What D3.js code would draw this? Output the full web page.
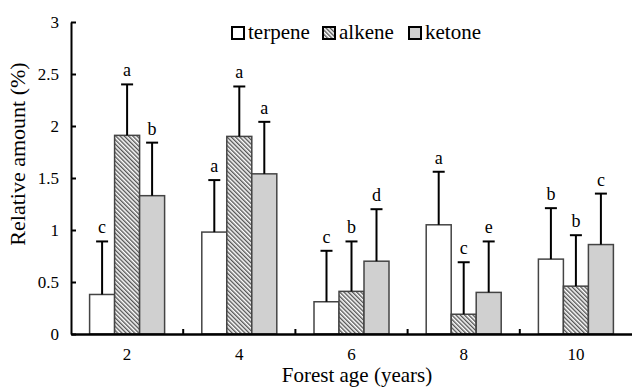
<!DOCTYPE html>
<html>
<head>
<meta charset="utf-8">
<script src="https://cdn.jsdelivr.net/npm/d3@7"></script>
<style>
  body { margin: 0; background: #fff; }
  svg text { font-family: "Liberation Serif", "Times New Roman", serif; }
</style>
</head>
<body>
<script>
var ages = ['2', '4', '6', '8', '10'];
var series = ['terpene', 'alkene', 'ketone'];
var terpene = [0.38, 0.98, 0.31, 1.05, 0.72];
var alkene = [1.91, 1.90, 0.41, 0.19, 0.46];
var ketone = [1.33, 1.54, 0.70, 0.40, 0.86];
var terpeneErr = [0.51, 0.50, 0.49, 0.51, 0.49];
var alkeneErr = [0.49, 0.48, 0.48, 0.50, 0.49];
var ketoneErr = [0.51, 0.50, 0.50, 0.49, 0.49];
var terpeneSig = ['c', 'a', 'c', 'a', 'b'];
var alkeneSig = ['a', 'a', 'b', 'c', 'b'];
var ketoneSig = ['b', 'a', 'd', 'e', 'c'];
var yTicks = [0, 0.5, 1, 1.5, 2, 2.5, 3];

var vals = { terpene: terpene, alkene: alkene, ketone: ketone };
var errs = { terpene: terpeneErr, alkene: alkeneErr, ketone: ketoneErr };
var sigs = { terpene: terpeneSig, alkene: alkeneSig, ketone: ketoneSig };

var W = 632, H = 387;
var svg = d3.select('body').append('svg').attr('width', W).attr('height', H)
  .attr('font-family', '"Liberation Serif", "Times New Roman", serif');

// hatch for alkene
var defs = svg.append('defs');
defs.append('pattern').attr('id', 'hatch').attr('patternUnits', 'userSpaceOnUse')
  .attr('width', 3).attr('height', 3).attr('patternTransform', 'rotate(-45)')
  .call(function (p) {
    p.append('rect').attr('width', 3).attr('height', 3).attr('fill', '#fff');
    p.append('line').attr('x1', 0.7).attr('y1', 0).attr('x2', 0.7).attr('y2', 3)
      .attr('stroke', '#555').attr('stroke-width', 1.4);
  });

var fills = { terpene: '#fff', alkene: 'url(#hatch)', ketone: '#d0d0d0' };

var x = d3.scaleBand().domain(ages).range([71, 632]);
var groupPad = 18.6;
var x1 = d3.scaleBand().domain(series).range([groupPad, x.bandwidth() - groupPad]);
var y = d3.scaleLinear().domain([0, 3]).range([334, 22]);

// bars
series.forEach(function (s) {
  var g = svg.append('g');
  g.selectAll('rect').data(vals[s]).enter().append('rect')
    .attr('x', function (d, i) { return x(ages[i]) + x1(s); })
    .attr('y', function (d) { return y(d); })
    .attr('width', x1.bandwidth())
    .attr('height', function (d) { return y(0) - y(d); })
    .attr('fill', fills[s]).attr('stroke', '#444').attr('stroke-width', 1.5);

  var cx = function (i) { return x(ages[i]) + x1(s) + x1.bandwidth() / 2; };
  // error bars (upper only)
  g.selectAll('line.eb').data(vals[s]).enter().append('line').attr('class', 'eb')
    .attr('x1', function (d, i) { return cx(i); }).attr('x2', function (d, i) { return cx(i); })
    .attr('y1', function (d) { return y(d); })
    .attr('y2', function (d, i) { return y(d + errs[s][i]); })
    .attr('stroke', '#000').attr('stroke-width', 2);
  g.selectAll('line.cap').data(vals[s]).enter().append('line').attr('class', 'cap')
    .attr('x1', function (d, i) { return cx(i) - 6; }).attr('x2', function (d, i) { return cx(i) + 6; })
    .attr('y1', function (d, i) { return y(d + errs[s][i]); })
    .attr('y2', function (d, i) { return y(d + errs[s][i]); })
    .attr('stroke', '#000').attr('stroke-width', 2);
  g.selectAll('text').data(vals[s]).enter().append('text')
    .attr('x', function (d, i) { return cx(i); })
    .attr('y', function (d, i) { return y(d + errs[s][i]) - 8; })
    .attr('text-anchor', 'middle').attr('font-size', 18)
    .text(function (d, i) { return sigs[s][i]; });
});

// y axis
var yAxis = d3.axisLeft(y).tickValues(yTicks).tickFormat(d3.format('')).tickSizeInner(-5).tickSizeOuter(0).tickPadding(12);
var ya = svg.append('g').attr('transform', 'translate(71,0)').call(yAxis)
  .attr('font-family', null).attr('font-size', 17);
ya.select('.domain').attr('stroke-width', 2);
ya.selectAll('.tick line').attr('stroke-width', 2);

// x axis
var xAxis = d3.axisBottom(x).tickSize(0).tickPadding(14);
var xa = svg.append('g').attr('transform', 'translate(0,334)').call(xAxis)
  .attr('font-family', null).attr('font-size', 17);
xa.select('.domain').attr('stroke-width', 2.5);
xa.selectAll('line.sep').data(ages.slice(1)).enter().append('line').attr('class', 'sep')
  .attr('x1', function (d) { return x(d); }).attr('x2', function (d) { return x(d); })
  .attr('y1', 0).attr('y2', -5).attr('stroke', '#000').attr('stroke-width', 2);

// titles
svg.append('text').attr('transform', 'translate(25,154) rotate(-90)')
  .attr('text-anchor', 'middle').attr('font-size', 22).text('Relative amount (%)');
svg.append('text').attr('x', 357).attr('y', 382)
  .attr('text-anchor', 'middle').attr('font-size', 21).text('Forest age (years)');

// legend
var legX = [232, 323, 409];
var leg = svg.append('g');
series.forEach(function (s, i) {
  leg.append('rect').attr('x', legX[i]).attr('y', 27).attr('width', 12).attr('height', 12)
    .attr('fill', fills[s]).attr('stroke', '#000').attr('stroke-width', 2);
  leg.append('text').attr('x', legX[i] + 16).attr('y', 39).attr('font-size', 21).text(s);
});
</script>
</body>
</html>
